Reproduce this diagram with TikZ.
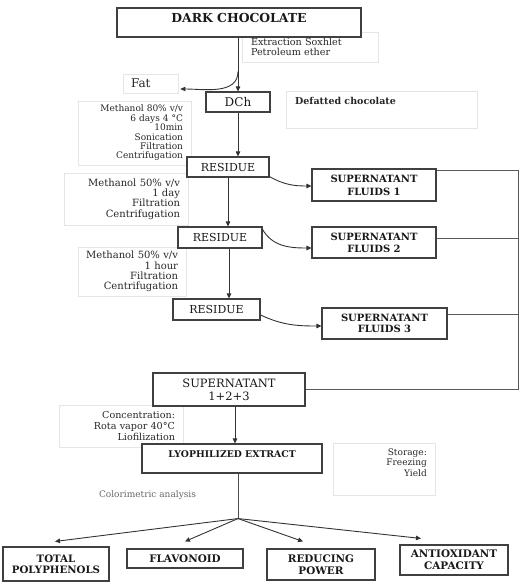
\documentclass[tikz,border=0pt]{standalone}
\usepackage{fontspec}
\setmainfont{DejaVu Serif}
\usetikzlibrary{arrows.meta}
\newcommand{\fsz}[2]{\fontsize{#1}{#2}\selectfont}
\tikzset{
  box/.style={draw=black!75, line width=1.1pt, fill=white, align=center, inner sep=1pt, text=black!90},
  note/.style={draw=black!10, line width=0.7pt, inner xsep=8pt, inner ysep=1pt, text=black!85},
  arr/.style={draw=black!80, line width=0.9pt, -{Triangle[length=5pt,width=4.5pt]}},
  collect/.style={draw=black!65, line width=0.8pt},
}
\begin{document}
\begin{tikzpicture}[x=1pt,y=1pt]
\useasboundingbox (0,0) rectangle (525,-588);
% side notes first, boxes go on top
\node[note, minimum width=136, minimum height=30, text width=118, align=left, font=\fsz{9.6}{10}] (ext) at (310,-47) {Extraction Soxhlet\\Petroleum ether};
\node[note, minimum width=55, minimum height=19, text width=39, align=left, font=\fsz{12}{13}] (fat) at (150.5,-83.5) {Fat};
\node[note, minimum width=191, minimum height=37] (def) at (381.5,-109.5) {};
\node[anchor=west, inner sep=0pt, font=\bfseries\fsz{9.5}{11}, text=black!85] (deftxt) at (295,-101) {Defatted chocolate};
\node[note, minimum width=113, minimum height=64, text width=97, align=right, font=\fsz{9}{9.4}] (meth80) at (134.5,-133) {Methanol 80\% v/v\\6 days 4 °C\\10min\\Sonication\\Filtration\\Centrifugation};
\node[note, minimum width=124, minimum height=52, text width=108, align=right, font=\fsz{10}{10.3}] (meth50a) at (126,-199) {Methanol 50\% v/v\\1 day\\Filtration\\Centrifugation};
\node[note, minimum width=108, minimum height=49, text width=92, align=right, font=\fsz{10}{10.3}] (meth50b) at (132,-271.5) {Methanol 50\% v/v\\1 hour\\Filtration\\Centrifugation};
\node[note, minimum width=124, minimum height=42, text width=108, align=right, font=\fsz{9.6}{10.5}] (conc) at (121,-426) {Concentration:\\Rota vapor 40°C\\Liofilization};
\node[note, minimum width=102, minimum height=52] (stor) at (384,-469) {};
\node[anchor=north east, inner sep=0pt, align=right, font=\fsz{9}{10.5}, text=black!85] (stortxt) at (427,-448.5) {Storage:\\Freezing\\Yield};
\node[font=\fsz{9}{10}, text=black!60] (color) at (147.5,-495) {Colorimetric analysis};
% main boxes
\node[box, minimum width=244, minimum height=29, text depth=9pt, font=\bfseries\fsz{12.4}{14}] (dc) at (239,-22.5) {DARK CHOCOLATE};
\node[box, minimum width=64, minimum height=20, font=\fsz{12}{14}] (dch) at (238,-102) {DCh};
\node[box, minimum width=82, minimum height=20, font=\fsz{11}{13}] (res1) at (228,-167) {RESIDUE};
\node[box, minimum width=124, minimum height=32, font=\bfseries\fsz{10}{13}] (sf1) at (374,-185) {SUPERNATANT\\FLUIDS 1};
\node[box, minimum width=84, minimum height=21, font=\fsz{11}{13}] (res2) at (220,-237.5) {RESIDUE};
\node[box, minimum width=124, minimum height=31, font=\bfseries\fsz{10}{12}] (sf2) at (374,-242.5) {SUPERNATANT\\FLUIDS 2};
\node[box, minimum width=87, minimum height=21, font=\fsz{11}{13}] (res3) at (216.5,-309.5) {RESIDUE};
\node[box, minimum width=125, minimum height=31, font=\bfseries\fsz{10}{11}] (sf3) at (384.5,-323.5) {SUPERNATANT\\FLUIDS 3};
\node[box, minimum width=152, minimum height=33, font=\fsz{11.5}{13}] (sup) at (229,-389.5) {SUPERNATANT\\1+2+3};
\node[box, minimum width=180, minimum height=29, text depth=9pt, font=\bfseries\fsz{9.3}{12}] (lyo) at (232,-458.5) {LYOPHILIZED EXTRACT};
\node[box, minimum width=106, minimum height=34, font=\bfseries\fsz{10.2}{11}] (tp) at (56,-564) {TOTAL\\POLYPHENOLS};
\node[box, minimum width=116, minimum height=19, font=\bfseries\fsz{10.4}{12}] (fl) at (185,-558.5) {FLAVONOID};
\node[box, minimum width=108, minimum height=31, font=\bfseries\fsz{10.4}{12}] (rp) at (321,-564.5) {REDUCING\\POWER};
\node[box, minimum width=108, minimum height=30, font=\bfseries\fsz{10.4}{12}] (ac) at (454,-560) {ANTIOXIDANT\\CAPACITY};
% connectors
\draw[arr] (dch.north |- dc.south) -- (dch.north);
\path (dch.north) ++(0,20) coordinate (fork);
\draw[arr] (fork) to[out=-90, in=0] ([shift={(2,-5.5)}]fat.east);
\draw[arr] (dch.south) -- (dch.south |- res1.north);
\draw[arr] (res1.south) -- (res1.south |- res2.north);
\path ([xshift=9pt]res2.south) coordinate (res2out);
\draw[arr] (res2out) -- (res2out |- res3.north);
\draw[arr] ([yshift=1pt]res1.south east) to[out=-30, in=180] ([yshift=-1pt]sf1.west);
\draw[arr] ([yshift=-3pt]res2.north east) to[out=-60, in=180] ([yshift=-5.5pt]sf2.west);
\draw[arr] ([yshift=-5.5pt]res3.east) to[out=-25, in=180] ([yshift=-2.5pt]sf3.west);
\coordinate (colltop) at (518,-170);
\draw[collect] ([yshift=15pt]sf1.east) -- (colltop) -- (colltop |- sup.east) -- (sup.east);
\draw[collect] ([yshift=4.5pt]sf2.east) -| (colltop);
\draw[collect] ([yshift=9.5pt]sf3.east) -| (colltop);
\path ([xshift=6pt]sup.south) coordinate (supout);
\draw[arr] (supout) -- (supout |- lyo.north);
\path ([xshift=6pt]lyo.south) coordinate (lyoout);
\path (lyoout) ++(0,-45) coordinate (br);
\draw[collect, draw=black!70] (lyoout) -- (br);
\draw[arr] (br) -- ([shift={(-1,5)}]tp.north);
\draw[arr] (br) -- ([shift={(0,7)}]fl.north);
\draw[arr] (br) -- ([shift={(-18,7)}]rp.north);
\draw[arr] (br) -- ([shift={(-33,6)}]ac.north);
\end{tikzpicture}
\end{document}
